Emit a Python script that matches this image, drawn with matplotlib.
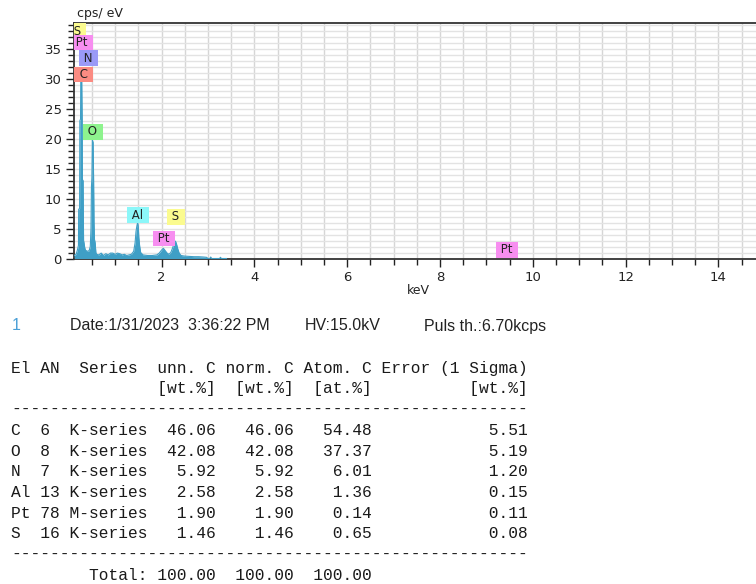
import matplotlib.pyplot as plt
from matplotlib.ticker import MultipleLocator

W, H = 756, 584

# EDS spectrum (keV vs cps/eV)
energy_kev = [0.12, 0.16, 0.19, 0.21, 0.215, 0.235, 0.24, 0.255, 0.26, 0.28, 0.29,
              0.295, 0.31, 0.32, 0.33, 0.345, 0.36, 0.40, 0.44, 0.465, 0.48, 0.49,
              0.50, 0.51, 0.525, 0.535, 0.545, 0.555, 0.57, 0.585, 0.60,
              0.65, 0.70, 0.75, 0.80, 0.85, 0.90, 0.95, 1.00, 1.05, 1.10, 1.15,
              1.20, 1.25, 1.30, 1.35, 1.40, 1.43, 1.45, 1.47, 1.485, 1.50, 1.51,
              1.53, 1.55, 1.60, 1.70, 1.80, 1.90, 1.95, 2.00, 2.04, 2.08, 2.12,
              2.16, 2.20, 2.24, 2.27, 2.30, 2.32, 2.35, 2.38, 2.42, 2.50, 2.60,
              2.70, 2.80, 2.90, 2.97, 3.00, 3.04, 3.06, 3.08, 3.25, 3.27, 3.29, 3.40]
counts = [0.5, 0.7, 1.5, 2.2, 8.2, 8.4, 23.0, 23.3, 30.0, 29.6, 23.0,
          13.2, 13.0, 3.0, 2.6, 1.8, 1.4, 1.2, 1.3, 2.0, 5.0, 12.0,
          13.5, 19.8, 19.4, 14.0, 6.0, 3.2, 2.6, 1.0, 0.7,
          0.6, 0.9, 0.5, 0.8, 0.6, 0.9, 0.9, 0.7, 0.9, 0.8, 0.6,
          0.7, 0.5, 0.6, 0.7, 1.2, 2.6, 4.5, 5.5, 6.0, 5.2, 3.5,
          2.0, 1.0, 0.6, 0.5, 0.5, 0.6, 0.9, 1.4, 1.7, 1.3, 0.9,
          0.7, 1.0, 1.8, 2.5, 2.9, 2.5, 1.6, 0.9, 0.5, 0.4, 0.35,
          0.3, 0.3, 0.25, 0.2, 0.0, 0.0, 0.25, 0.0, 0.0, 0.2, 0.0, 0.0]

peak_names = ["S", "Pt", "N", "C", "O", "Al", "S", "Pt", "Pt"]
peak_kev = [0.18, 0.285, 0.42, 0.32, 0.52, 1.49, 2.31, 2.05, 9.44]
peak_cps = [38.0, 36.1, 33.5, 30.75, 21.2, 7.25, 7.0, 3.33, 1.47]
element_colors = {"S": "#fbfb8f", "Pt": "#f78ef0", "N": "#9a9af7",
                  "C": "#fb8b82", "O": "#8ef38e", "Al": "#8cf7f9"}

# quantification results
elements = ["C", "O", "N", "Al", "Pt", "S"]
atomic_no = [6, 8, 7, 13, 78, 16]
series = ["K-series", "K-series", "K-series", "K-series", "M-series", "K-series"]
unn_c = [46.06, 42.08, 5.92, 2.58, 1.90, 1.46]
norm_c = [46.06, 42.08, 5.92, 2.58, 1.90, 1.46]
atom_c = [54.48, 37.37, 6.01, 1.36, 0.14, 0.65]
error_1s = [5.51, 5.19, 1.20, 0.15, 0.11, 0.08]
totals = [100.00, 100.00, 100.00]


def fx(x):
    return x / W


def fy(y):
    return 1 - y / H


fig = plt.figure(figsize=(W / 100, H / 100), dpi=100)
ax = fig.add_axes([fx(74), fy(258.5), (W - 74) / W, (258.5 - 22.7) / H])

spec_color = "#3f9fc6"
ax.fill_between(energy_kev, counts, color=spec_color, lw=0, zorder=3)
ax.plot(energy_kev, counts, color=spec_color, lw=0.8, zorder=3)

ax.set_xlim(0.114, 14.81)
ax.set_ylim(0, 39.4)

ax.xaxis.set_major_locator(MultipleLocator(2))
ax.xaxis.set_minor_locator(MultipleLocator(0.5))
ax.yaxis.set_major_locator(MultipleLocator(5))
ax.yaxis.set_minor_locator(MultipleLocator(1))
ax.grid(which="both", axis="x", color="#d6d6d6", lw=1.0, zorder=0)
ax.grid(which="both", axis="y", color="#e3e3e3", lw=1.0, zorder=0)
ax.set_axisbelow(True)

ax.tick_params(which="major", direction="out", length=6, width=1, labelsize=9.5,
               colors="#222222", pad=3)
ax.tick_params(which="minor", direction="out", length=4, width=1, colors="#222222")
ax.tick_params(axis="x", which="major", length=6)

for side in ["top", "bottom", "left"]:
    ax.spines[side].set_color("#333333")
    ax.spines[side].set_linewidth(1.3)
ax.spines["right"].set_visible(False)

for name, xk, yc in zip(peak_names, peak_kev, peak_cps):
    ax.text(xk, yc, " " + name + " ", ha="center", va="center", fontsize=8.5,
            color="#222222", zorder=5, clip_on=True,
            bbox=dict(boxstyle="square,pad=0.12", fc=element_colors[name], ec="none"))

fig.text(fx(77), fy(14), "cps/ eV", ha="left", va="center", fontsize=9, color="#222222")
fig.text(fx(418), fy(291), "keV", ha="center", va="center", fontsize=9, color="#222222")

# acquisition info line
sans = "Liberation Sans"
fig.text(fx(12), fy(326), "1", fontsize=11.5, family=sans, color="#4a9fd6", va="center")
fig.text(fx(70), fy(326), "Date:1/31/2023  3:36:22 PM", fontsize=11.5, family=sans,
         color="#222222", va="center")
fig.text(fx(305), fy(326), "HV:15.0kV", fontsize=11.5, family=sans, color="#222222",
         va="center")
fig.text(fx(424), fy(326), "Puls th.:6.70kcps", fontsize=11.5, family=sans,
         color="#222222", va="center")

# results table in fixed-width text
dash = "-" * 53
lines = ["El AN  Series  unn. C norm. C Atom. C Error (1 Sigma)",
         " " * 15 + "[wt.%]  [wt.%]  [at.%]" + " " * 10 + "[wt.%]",
         dash]
for el, an, ser, u, n, a, e in zip(elements, atomic_no, series, unn_c, norm_c,
                                   atom_c, error_1s):
    lines.append(f"{el:<3}{an:<3}{ser}{u:>7.2f}{n:>8.2f}{a:>8.2f}{e:>16.2f}")
lines.append(dash)
lines.append(" " * 8 + f"Total:{totals[0]:>7.2f}{totals[1]:>8.2f}{totals[2]:>8.2f}")

for i, line in enumerate(lines):
    fig.text(fx(11), fy(367 + i * 20.75 + 5.5), line, fontsize=11.7,
             family="Liberation Mono", color="#1a1a1a", ha="left", va="baseline")

fig.savefig("out.png", dpi=100)
